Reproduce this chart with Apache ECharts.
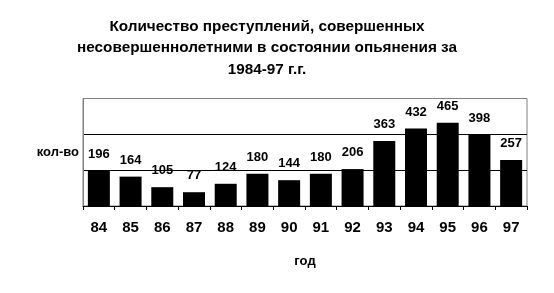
<!DOCTYPE html>
<html><head><meta charset="utf-8">
<script src="https://cdn.jsdelivr.net/npm/echarts@6/dist/echarts.min.js"></script>
<style>html,body{margin:0;padding:0;background:#fff}#c{width:554px;height:293px}</style>
</head><body><div id="c"></div>
<script>
const titleText = 'Количество преступлений, совершенных\nнесовершеннолетними в состоянии опьянения за\n1984-97 г.г.';
const categories = ['84','85','86','87','88','89','90','91','92','93','94','95','96','97'];
const values = [196,164,105,77,124,180,144,180,206,363,432,465,398,257];
const yName = 'кол-во';
const xName = 'год';

const chart = echarts.init(document.getElementById('c'), null, {renderer:'canvas'});
chart.setOption({
  animation: false,
  backgroundColor: '#fff',
  title: {
    text: titleText,
    left: 262, top: 11, textAlign: 'center',
    textStyle: {fontFamily: 'Liberation Sans, Arial, sans-serif', fontSize: 15.3, fontWeight: 'bold', color: '#000', lineHeight: 21.5, align: 'center'}
  },
  grid: {left: 83, right: 27, top: 98.5, bottom: 87, show: true, borderColor: '#808080', borderWidth: 1, backgroundColor: 'transparent'},
  xAxis: {
    type: 'category', data: categories,
    name: xName, nameLocation: 'middle', nameGap: 49,
    nameTextStyle: {fontFamily: 'Liberation Sans, Arial, sans-serif', fontSize: 13, fontWeight: 'bold', color: '#000'},
    axisLine: {lineStyle: {color: '#000', width: 1}},
    axisTick: {show: true, length: 4, lineStyle: {color: '#000'}},
    axisLabel: {fontFamily: 'Liberation Sans, Arial, sans-serif', fontSize: 15, fontWeight: 'bold', color: '#000', margin: 14}
  },
  yAxis: {
    type: 'value', min: 0, max: 600, interval: 200,
    name: yName, nameLocation: 'middle', nameRotate: 0, nameGap: 4,
    nameTextStyle: {fontFamily: 'Liberation Sans, Arial, sans-serif', fontSize: 13, fontWeight: 'bold', color: '#000', align: 'right', verticalAlign: 'middle', padding: [0,0,0,0]},
    axisLine: {show: true, lineStyle: {color: '#808080'}},
    axisTick: {show: false},
    axisLabel: {show: false},
    splitLine: {show: true, lineStyle: {color: ['#000','#000','#000','#808080'], width: 1}}
  },
  series: [{
    type: 'bar', data: values, barWidth: 22,
    itemStyle: {color: '#000'},
    label: {show: true, position: 'top', distance: 10, fontFamily: 'Liberation Sans, Arial, sans-serif', fontSize: 13, fontWeight: 'bold', color: '#000'}
  }]
});
</script></body></html>
